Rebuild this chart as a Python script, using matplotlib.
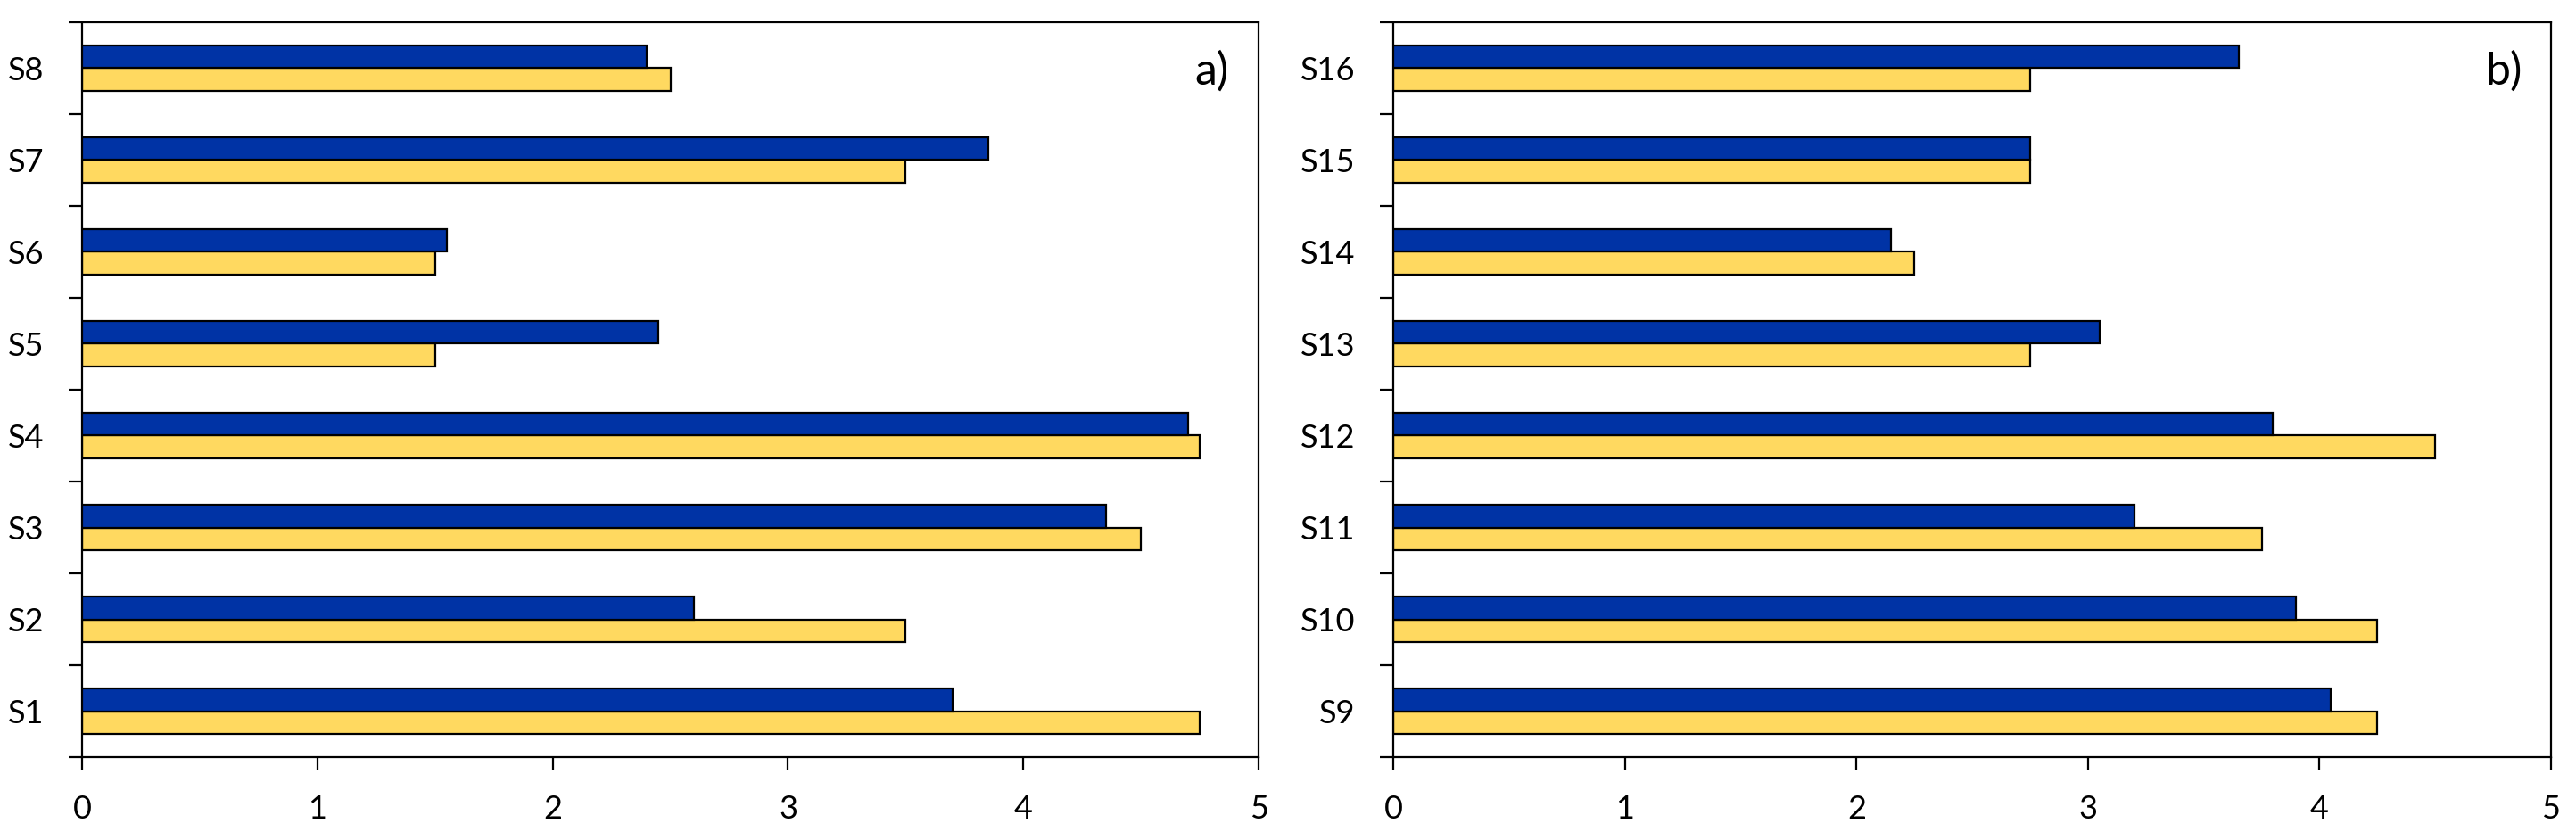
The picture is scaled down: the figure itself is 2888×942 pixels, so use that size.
import matplotlib
matplotlib.use("Agg")
import matplotlib.pyplot as plt
import numpy as np

# panel a) S1..S8, panel b) S9..S16
labels_a = ["S1", "S2", "S3", "S4", "S5", "S6", "S7", "S8"]
blue_a = [3.7, 2.6, 4.35, 4.7, 2.45, 1.55, 3.85, 2.4]
yellow_a = [4.75, 3.5, 4.5, 4.75, 1.5, 1.5, 3.5, 2.5]

labels_b = ["S9", "S10", "S11", "S12", "S13", "S14", "S15", "S16"]
blue_b = [4.05, 3.9, 3.2, 3.8, 3.05, 2.15, 2.75, 3.65]
yellow_b = [4.25, 4.25, 3.75, 4.5, 2.75, 2.25, 2.75, 2.75]

x_ticks = [0, 1, 2, 3, 4, 5]

BLUE = "#0033a5"
YELLOW = "#ffd960"

plt.rcParams['font.family'] = ['Lato', 'DejaVu Sans']


def draw_panel(ax, labels, blue, yellow, tag):
    y = np.arange(len(labels))
    h = 0.25
    ax.barh(y - h / 2, yellow, height=h, color=YELLOW, edgecolor="black", linewidth=1.6, zorder=2)
    ax.barh(y + h / 2, blue, height=h, color=BLUE, edgecolor="black", linewidth=1.6, zorder=3)

    ax.set_xlim(0, 5)
    ax.set_ylim(-0.5, len(labels) - 0.5)

    # excel style: tick marks between categories, labels at the centres
    ax.set_yticks(np.arange(len(labels) + 1) - 0.5)
    ax.set_yticklabels([])
    ax.set_yticks(y, minor=True)
    ax.set_yticklabels(labels, minor=True, fontsize=26)
    ax.tick_params(axis="y", which="major", direction="out", length=11, width=1.6)
    ax.tick_params(axis="y", which="minor", length=0, pad=31)

    ax.set_xticks(x_ticks)
    ax.set_xticklabels([str(v) for v in x_ticks], fontsize=26)
    ax.tick_params(axis="x", direction="out", length=10, width=1.6, pad=20)

    for s in ax.spines.values():
        s.set_linewidth(1.6)

    ax.text(0.975, 0.933, tag, transform=ax.transAxes, ha="right", va="center", fontsize=36)


def main():
    fig = plt.figure(figsize=(28.88, 9.42), dpi=100)
    ax1 = fig.add_axes([0.0319, 0.0987, 0.4567, 0.8748])
    ax2 = fig.add_axes([0.5409, 0.0987, 0.4494, 0.8748])

    draw_panel(ax1, labels_a, blue_a, yellow_a, "a)")
    draw_panel(ax2, labels_b, blue_b, yellow_b, "b)")

    fig.savefig("out.png", dpi=100)


if __name__ == "__main__":
    main()
